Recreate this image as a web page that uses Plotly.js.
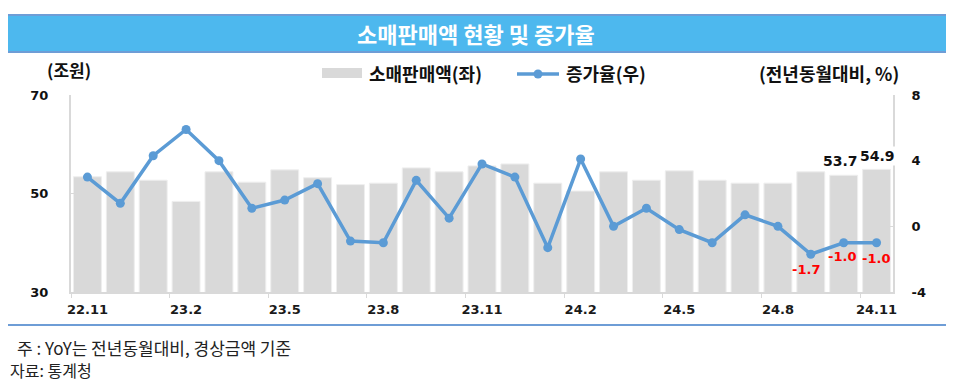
<!DOCTYPE html>
<html>
<head>
<meta charset="utf-8">
<script src="https://cdn.plot.ly/plotly-3.0.1.min.js"></script>
<style>
html,body{margin:0;padding:0;background:#fff;}
#chart{width:961px;height:390px;}
</style>
</head>
<body>
<div id="chart"></div>
<script>
// ---- data ----
const months = ['22.11','22.12','23.1','23.2','23.3','23.4','23.5','23.6','23.7','23.8','23.9','23.10',
  '23.11','23.12','24.1','24.2','24.3','24.4','24.5','24.6','24.7','24.8','24.9','24.10','24.11'];
const sales = [53.4,54.4,52.7,48.4,54.4,52.3,54.8,53.2,51.8,52.1,55.2,54.4,
  55.6,56.0,52.1,50.5,54.4,52.7,54.6,52.7,52.1,52.1,54.4,53.7,54.9];
const growth = [3.0,1.4,4.3,5.9,4.0,1.1,1.6,2.6,-0.9,-1.0,2.8,0.5,
  3.8,3.0,-1.3,4.1,0.0,1.1,-0.2,-1.0,0.7,0.0,-1.7,-1.0,-1.0];
const salesLabelIdx = [23,24];
const growthLabelIdx = [22,23,24];
const leftTicks = [30,50,70];
const rightTicks = [-4,0,4,8];

const titleText = '소매판매액 현황 및 증가율';
const salesName = '소매판매액(좌)';
const growthName = '증가율(우)';
const leftUnit = '(조원)';
const rightUnit = '(전년동월대비, %)';
const note1 = '주 : YoY는 전년동월대비, 경상금액 기준';
const note2 = '자료: 통계청';

// ---- layout geometry (pixels) ----
const W = 961, H = 390;
const PL = 71, PR = 893, PT = 95, PB = 292;
const px = v => (v - PL) / (PR - PL);
const py = v => (PB - v) / (PB - PT);

const FONT = 'DejaVu Sans, Noto Sans CJK KR, sans-serif';
const KFONT = 'Noto Sans CJK KR, DejaVu Sans, sans-serif';
const barColor = '#D9D9D9';
const lineColor = '#5B9BD5';
const axisColor = '#D9D9D9';

const traces = [
  {
    type: 'bar', x: months, y: sales, name: salesName, yaxis: 'y',
    marker: {color: barColor, line: {color: '#EEEEEE', width: 1}},
    showlegend: false, hoverinfo: 'x+y'
  },
  {
    type: 'scatter', mode: 'lines+markers', x: months, y: growth, name: growthName, yaxis: 'y2',
    line: {color: lineColor, width: 3.5},
    marker: {color: lineColor, size: 9},
    showlegend: false, hoverinfo: 'x+y'
  }
];

const annotations = [];
const salesShift = {23: [-3, 4], 24: [1, 3]};
salesLabelIdx.forEach(i => {
  const s = salesShift[i] || [0, 3];
  annotations.push({
    xref: 'x', yref: 'y', x: i, y: sales[i], text: sales[i].toFixed(1),
    showarrow: false, yanchor: 'bottom', xshift: s[0], yshift: s[1], bgcolor: '#FFFFFF',
    font: {family: FONT, size: 14, color: '#111111', weight: 'bold'}
  });
});
const growthShift = {22: [-5, -15], 23: [-2, -14], 24: [-1, -16]};
growthLabelIdx.forEach(i => {
  const s = growthShift[i] || [0, -15];
  annotations.push({
    xref: 'x', yref: 'y2', x: i, y: growth[i], text: growth[i].toFixed(1),
    showarrow: false, yanchor: 'middle', xshift: s[0], yshift: s[1],
    font: {family: FONT, size: 13, color: '#FF0000', weight: 'bold'}
  });
});
// title
annotations.push({xref: 'paper', yref: 'paper', x: px(476), y: py(33), text: titleText, showarrow: false,
  xanchor: 'center', yanchor: 'middle', font: {family: KFONT, size: 22, color: '#FFFFFF', weight: 'bold'}});
// unit labels
annotations.push({xref: 'paper', yref: 'paper', x: px(69), y: py(70), text: leftUnit, showarrow: false,
  xanchor: 'center', yanchor: 'middle', font: {family: KFONT, size: 17, color: '#111111', weight: 'bold'}});
annotations.push({xref: 'paper', yref: 'paper', x: px(829), y: py(73), text: rightUnit, showarrow: false,
  xanchor: 'center', yanchor: 'middle', font: {family: KFONT, size: 18, color: '#111111', weight: 'bold'}});
// legend texts
annotations.push({xref: 'paper', yref: 'paper', x: px(367), y: py(73), text: salesName, showarrow: false,
  xanchor: 'left', yanchor: 'middle', font: {family: KFONT, size: 18, color: '#111111', weight: 'bold'}});
annotations.push({xref: 'paper', yref: 'paper', x: px(564), y: py(73), text: growthName, showarrow: false,
  xanchor: 'left', yanchor: 'middle', font: {family: KFONT, size: 18, color: '#111111', weight: 'bold'}});
// notes
annotations.push({xref: 'paper', yref: 'paper', x: px(15), y: py(347), text: note1, showarrow: false,
  xanchor: 'left', yanchor: 'middle', font: {family: KFONT, size: 17, color: '#222222'}});
annotations.push({xref: 'paper', yref: 'paper', x: px(8), y: py(370), text: note2, showarrow: false,
  xanchor: 'left', yanchor: 'middle', font: {family: KFONT, size: 16, color: '#222222'}});

const shapes = [
  // title band
  {type: 'rect', xref: 'paper', yref: 'paper', x0: px(8), x1: px(946), y0: py(52), y1: py(15),
    fillcolor: '#4DB8EE', line: {width: 0}, layer: 'below'},
  {type: 'line', xref: 'paper', yref: 'paper', x0: px(8), x1: px(946), y0: py(15), y1: py(15),
    line: {color: '#6E9DD6', width: 2}},
  {type: 'line', xref: 'paper', yref: 'paper', x0: px(8), x1: px(946), y0: py(52), y1: py(52),
    line: {color: '#6E9DD6', width: 2}},
  // legend keys
  {type: 'rect', xref: 'paper', yref: 'paper', x0: px(322), x1: px(362), y0: py(78), y1: py(68),
    fillcolor: barColor, line: {width: 0}},
  {type: 'line', xref: 'paper', yref: 'paper', x0: px(517), x1: px(559), y0: py(74), y1: py(74),
    line: {color: lineColor, width: 3.5}},
  {type: 'circle', xref: 'paper', yref: 'paper', x0: px(533.5), x1: px(542.5), y0: py(78.5), y1: py(69.5),
    fillcolor: lineColor, line: {width: 0}},
  // bottom separator
  {type: 'line', xref: 'paper', yref: 'paper', x0: px(8), x1: px(946), y0: py(325), y1: py(325),
    line: {color: '#6E9DD6', width: 2}}
];

const layout = {
  width: W, height: H,
  margin: {l: PL, r: W - PR, t: PT, b: H - PB, pad: 0},
  paper_bgcolor: '#FFFFFF', plot_bgcolor: '#FFFFFF',
  font: {family: FONT, color: '#111111'},
  showlegend: false,
  bargap: 0.15,
  xaxis: {
    type: 'category', tickmode: 'linear', tick0: 0, dtick: 3, tickson: 'boundaries', tickangle: 0,
    ticks: 'outside', ticklen: 4, tickcolor: axisColor, tickwidth: 1,
    showline: true, linecolor: axisColor, linewidth: 2, showgrid: false, zeroline: false,
    tickfont: {family: FONT, size: 13, color: '#1A1A1A', weight: 'bold'}, ticklabelstandoff: 4,
    range: [-0.5, months.length - 0.5], fixedrange: true
  },
  yaxis: {
    range: [30, 70], tickmode: 'array', tickvals: leftTicks, ticktext: leftTicks.map(String),
    ticks: 'inside', ticklen: 5, tickcolor: axisColor, showline: true, linecolor: axisColor, linewidth: 2,
    showgrid: false, zeroline: false, ticklabelstandoff: 18,
    tickfont: {family: FONT, size: 13, color: '#111111', weight: 'bold'}, fixedrange: true
  },
  yaxis2: {
    overlaying: 'y', side: 'right', range: [-4, 8], tickmode: 'array', tickvals: rightTicks, ticktext: rightTicks.map(String),
    ticks: 'inside', ticklen: 5, tickcolor: axisColor, showline: true, linecolor: axisColor, linewidth: 2,
    showgrid: false, zeroline: false, ticklabelstandoff: 14,
    tickfont: {family: FONT, size: 13, color: '#111111', weight: 'bold'}, fixedrange: true
  },
  annotations: annotations,
  shapes: shapes
};

Plotly.newPlot('chart', traces, layout, {displayModeBar: false, staticPlot: true});
</script>
</body>
</html>
